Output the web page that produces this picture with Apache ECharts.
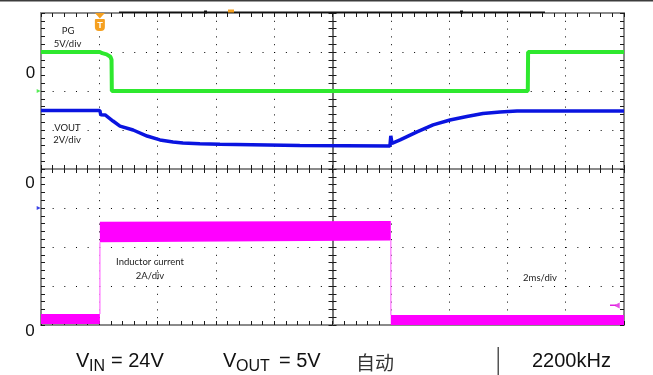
<!DOCTYPE html>
<html><head><meta charset="utf-8">
<script src="https://cdn.jsdelivr.net/npm/echarts@6/dist/echarts.min.js"></script>
<style>html,body{margin:0;padding:0;background:#fff}#c{width:653px;height:375px}</style>
</head><body><div id="c"></div>
<script>
// ---- horizontal scale: time in ms, 2 ms/div, 10 divisions ----
const timeMin = 0, timeMax = 20, timeDiv = 2;
const trigTime = 2.02;
// ---- vertical: 8 divisions ----
const divMin = -4, divMax = 4;

// PG channel (5 V/div)
const pgTime = [0, 2.02, 2.1, 2.25, 2.38, 2.42, 2.43, 16.70, 16.71, 20];
const pgVolt = [5.0, 5.0, 4.85, 4.7, 4.4, 4.0, 0.0, 0.0, 5.0, 5.0];

// VOUT channel (2 V/div)
const voutTime = [0, 2.02, 2.05, 2.1, 2.2, 2.47, 2.71, 3.16, 3.64, 4.08, 4.53, 4.87, 5.45, 6.14, 8.88, 11.97, 12.0, 12.04, 12.32, 12.9, 13.45, 14.03, 14.61, 15.16, 15.75, 16.33, 20];
const voutVolt = [5.0, 5.0, 4.78, 4.85, 4.77, 4.46, 4.2, 4.0, 3.69, 3.49, 3.38, 3.33, 3.3, 3.27, 3.2, 3.18, 3.7, 3.32, 3.49, 3.9, 4.26, 4.51, 4.69, 4.85, 4.92, 4.97, 4.97];

// Inductor current (2 A/div) ripple envelope segments
const ilSegStart = [0, 2.02, 12.0];
const ilSegEnd   = [2.02, 12.0, 20];
const ilLoStart  = [0.05, 4.25, 0.0];
const ilHiStart  = [0.56, 5.30, 0.51];
const ilLoEnd    = [0.05, 4.33, 0.0];
const ilHiEnd    = [0.56, 5.33, 0.51];

const chart = echarts.init(document.getElementById('c'));

const GRID = {left: 41, top: 13, width: 583, height: 312};
const borderColor = '#8a8a8a';
const dotColor = '#000000';
const tickColor = '#1a1a1a';

function xAx(extra) {
  return Object.assign({
    type: 'value', min: timeMin, max: timeMax, interval: timeDiv,
    axisLabel: {show: false},
    axisLine: {show: true, onZero: false, lineStyle: {color: borderColor, width: 2}},
    axisTick: {show: true, inside: true, length: 4, lineStyle: {color: tickColor, width: 1}},
    minorTick: {show: true, splitNumber: 5, length: 4, lineStyle: {color: tickColor, width: 1}},
    splitLine: {show: false}
  }, extra);
}
function yAx(extra) {
  return Object.assign({
    type: 'value', min: divMin, max: divMax, interval: 1,
    axisLabel: {show: false},
    axisLine: {show: true, onZero: false, lineStyle: {color: borderColor, width: 2}},
    axisTick: {show: true, inside: true, length: 4, lineStyle: {color: tickColor, width: 1}},
    minorTick: {show: true, splitNumber: 5, length: 4, lineStyle: {color: tickColor, width: 1}},
    splitLine: {show: false}
  }, extra);
}

const option = {
  animation: false,
  grid: Object.assign({}, GRID),
  xAxis: [
    xAx({position: 'bottom', splitLine: {show: true, lineStyle: {color: dotColor, width: 1, type: [1, 6.8]}}}),
    xAx({position: 'top'}),
    xAx({position: 'bottom', offset: -156, axisTick: {show: true, inside: false, length: 4, lineStyle: {color: tickColor}},
         axisLine: {show: true, onZero: false, lineStyle: {color: '#8a8a8a', width: 2}}}),
    xAx({position: 'bottom', offset: -156, axisLine: {show: false, onZero: false}})
  ],
  yAxis: [
    yAx({position: 'left', splitLine: {show: true, lineStyle: {color: dotColor, width: 1, type: [1, 10.66]}}}),
    yAx({position: 'right'}),
    yAx({position: 'left', offset: -291.5, axisTick: {show: true, inside: false, length: 4, lineStyle: {color: tickColor}},
         axisLine: {show: true, onZero: false, lineStyle: {color: '#4a4a4a', width: 1.5}}}),
    yAx({position: 'left', offset: -291.5, axisLine: {show: false, onZero: false}}),
    {type: 'value', show: false, min: -30, max: 10},   // PG 5 V/div
    {type: 'value', show: false, min: -6, max: 10},    // VOUT 2 V/div
    {type: 'value', show: false, min: 0, max: 16}      // IL 2 A/div
  ],
  series: [
    {
      name: 'IL edge1', type: 'line', xAxisIndex: 0, yAxisIndex: 6, symbol: 'none', silent: true,
      lineStyle: {color: '#ff8cff', width: 1.5},
      data: [[ilSegEnd[0], ilHiStart[0]], [ilSegStart[1], ilLoStart[1]]]
    },
    {
      name: 'IL edge2', type: 'line', xAxisIndex: 0, yAxisIndex: 6, symbol: 'none', silent: true,
      lineStyle: {color: '#ff8cff', width: 1.5},
      data: [[ilSegEnd[1], ilLoEnd[1]], [ilSegStart[2], ilHiStart[2]]]
    },
    {
      name: 'Inductor current', type: 'custom', xAxisIndex: 0, yAxisIndex: 6, silent: true,
      data: ilSegStart.map((s, i) => [s, ilSegEnd[i], ilLoStart[i], ilHiStart[i], ilLoEnd[i], ilHiEnd[i]]),
      encode: {x: [0, 1], y: [2, 3, 4, 5]},
      renderItem: function (params, api) {
        const a = api.coord([api.value(0), api.value(3)]);
        const b = api.coord([api.value(1), api.value(5)]);
        const c = api.coord([api.value(1), api.value(4)]);
        const d = api.coord([api.value(0), api.value(2)]);
        return {type: 'polygon', shape: {points: [a, b, c, d]}, style: {fill: '#ff00ff'}};
      }
    },
    {
      name: 'PG', type: 'line', xAxisIndex: 0, yAxisIndex: 4, symbol: 'none', silent: true,
      lineStyle: {color: '#2ee82e', width: 4},
      data: pgTime.map((t, i) => [t, pgVolt[i]])
    },
    {
      name: 'VOUT', type: 'line', xAxisIndex: 0, yAxisIndex: 5, symbol: 'none', silent: true,
      lineStyle: {color: '#0a14e0', width: 3.5},
      data: voutTime.map((t, i) => [t, voutVolt[i]])
    },
    {
      name: 'PG ref', type: 'scatter', xAxisIndex: 0, yAxisIndex: 4, clip: false, silent: true,
      symbol: 'triangle', symbolRotate: -90, symbolSize: 4, itemStyle: {color: '#2ee82e'},
      data: [[-0.08, 0]]
    },
    {
      name: 'VOUT ref', type: 'scatter', xAxisIndex: 0, yAxisIndex: 5, clip: false, silent: true,
      symbol: 'triangle', symbolRotate: -90, symbolSize: 4, itemStyle: {color: '#0a14e0'},
      data: [[-0.08, 0]]
    },
    {
      name: 'IL ref', type: 'scatter', xAxisIndex: 0, yAxisIndex: 6, clip: false, silent: true,
      symbol: 'triangle', symbolRotate: 90, symbolSize: 6, itemStyle: {color: '#e020e0'},
      data: [[19.75, 1.0]]
    }
  ]
};
chart.setOption(option);

const trigX = chart.convertToPixel({xAxisIndex: 0}, trigTime);
const smallFont = '9.5px Lato';
const bigFont = '20px "Liberation Sans"';
function txt(x, y, s, font, color, align) {
  return {type: 'text', x: x, y: y, silent: true, z: 100,
    style: {text: s, font: font, fill: color || '#222', align: align || 'center', verticalAlign: 'middle'}};
}
chart.setOption({
  graphic: [
    {type: 'rect', silent: true, shape: {x: 0, y: 0, width: 653, height: 1.5}, style: {fill: '#3c3c3c'}},
    {type: 'rect', silent: true, z: 50, shape: {x: 119, y: 11.5, width: 426, height: 1.5}, style: {fill: '#111'}},
    {type: 'rect', silent: true, z: 50, shape: {x: 204, y: 10.5, width: 3, height: 3}, style: {fill: '#111'}},
    {type: 'rect', silent: true, z: 50, shape: {x: 460, y: 10.5, width: 3, height: 3}, style: {fill: '#111'}},
    {type: 'rect', silent: true, z: 50, shape: {x: 228, y: 9.5, width: 6, height: 3}, style: {fill: '#f5a020'}},
    {type: 'rect', silent: true, z: 50, shape: {x: 610, y: 304.5, width: 6, height: 1.5}, style: {fill: '#e020e0'}},
    {type: 'polygon', silent: true, z: 60, shape: {points: [[trigX - 5, 13], [trigX + 5, 13], [trigX, 18.5]]}, style: {fill: '#f5a020'}},
    {type: 'rect', silent: true, z: 60, shape: {x: trigX - 5, y: 19, width: 10, height: 12, r: [1, 1, 4, 4]}, style: {fill: '#f5a020'}},
    {type: 'text', silent: true, z: 61, x: trigX, y: 25.5, style: {text: 'T', font: 'bold 9px "Liberation Sans"', fill: '#fff', align: 'center', verticalAlign: 'middle'}},
    txt(68, 31, 'PG', smallFont),
    txt(67.5, 44, '5V/div', smallFont),
    txt(67.5, 127.5, 'VOUT', smallFont),
    txt(67, 139.5, '2V/div', smallFont),
    txt(150, 262, 'Inductor current', smallFont),
    txt(150, 275.5, '2A/div', smallFont),
    txt(540, 277.5, '2ms/div', smallFont),
    txt(30.5, 73.5, '0', '17px "Liberation Sans"', '#111'),
    txt(30, 183.5, '0', '17px "Liberation Sans"', '#111'),
    txt(30, 331, '0', '17px "Liberation Sans"', '#111'),
    txt(76, 361, 'V', bigFont, '#111', 'left'),
    txt(89, 367, 'IN', '16px "Liberation Sans"', '#111', 'left'),
    txt(111, 361, '= 24V', bigFont, '#111', 'left'),
    txt(223, 361, 'V', bigFont, '#111', 'left'),
    txt(236, 367, 'OUT', '16px "Liberation Sans"', '#111', 'left'),
    txt(279, 361, '= 5V', bigFont, '#111', 'left'),
    txt(356, 363, '自动', '19px "Noto Sans CJK SC"', '#333', 'left'),
    {type: 'rect', silent: true, shape: {x: 497.5, y: 347, width: 1.5, height: 28}, style: {fill: '#555'}},
    txt(532, 361, '2200kHz', bigFont, '#111', 'left')
  ]
});
</script>
</body></html>
